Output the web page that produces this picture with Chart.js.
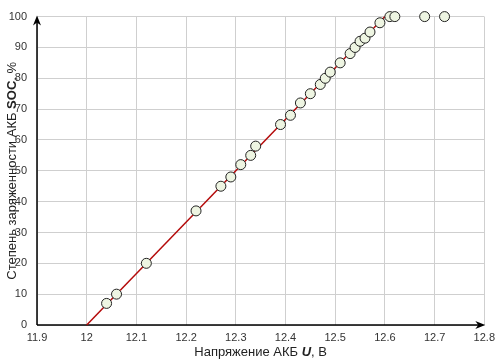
<!DOCTYPE html>
<html lang="ru">
<head>
  <meta charset="UTF-8" />
  <script src="https://cdn.jsdelivr.net/npm/chart.js"></script>
  <title>SOC АКБ</title>
  <style>
    html, body { margin: 0; padding: 0; background: #fff; }
    #box { width: 501px; height: 360px; }
  </style>
</head>
<body>
  <div id="box"><canvas id="grafico"></canvas></div>

<script>
  // данные: напряжение АКБ (В) и степень заряженности (%)
  var napryazhenie = [12.04, 12.06, 12.12, 12.22, 12.27, 12.29, 12.31, 12.33, 12.34, 12.39,
                      12.41, 12.43, 12.45, 12.47, 12.48, 12.49, 12.51, 12.53, 12.54, 12.55,
                      12.56, 12.57, 12.59, 12.61, 12.62, 12.68, 12.72]
  var soc = [7, 10, 20, 37, 45, 48, 52, 55, 58, 65,
             68, 72, 75, 78, 80, 82, 85, 88, 90, 92,
             93, 95, 98, 100, 100, 100, 100]

  // линия аппроксимации
  var liniyaU = [12.0, 12.6]
  var liniyaSoc = [0, 100]

  var xTicks = [11.9, 12, 12.1, 12.2, 12.3, 12.4, 12.5, 12.6, 12.7, 12.8]
  var yTicks = [0, 10, 20, 30, 40, 50, 60, 70, 80, 90, 100]

  const fonte = "'Liberation Sans', Arial, sans-serif"

  // оси со стрелками и подписи осей
  const osiPlugin = {
    id: 'osi',
    beforeDatasetsDraw(chart) {
      const ctx = chart.ctx
      const a = chart.chartArea
      ctx.save()
      ctx.strokeStyle = '#000'
      ctx.fillStyle = '#000'
      ctx.lineWidth = 1.5
      ctx.beginPath()
      ctx.moveTo(a.left, a.bottom)
      ctx.lineTo(a.left, a.top + 2)
      ctx.moveTo(a.left, a.bottom)
      ctx.lineTo(a.right - 2, a.bottom)
      ctx.stroke()
      // стрелка вверх
      ctx.beginPath()
      ctx.moveTo(a.left, a.top - 1)
      ctx.lineTo(a.left - 4, a.top + 9)
      ctx.lineTo(a.left, a.top + 6)
      ctx.lineTo(a.left + 4, a.top + 9)
      ctx.closePath()
      ctx.fill()
      // стрелка вправо
      ctx.beginPath()
      ctx.moveTo(a.right + 1, a.bottom)
      ctx.lineTo(a.right - 9, a.bottom - 4)
      ctx.lineTo(a.right - 6, a.bottom)
      ctx.lineTo(a.right - 9, a.bottom + 4)
      ctx.closePath()
      ctx.fill()
      ctx.restore()
    },
    afterDraw(chart) {
      const ctx = chart.ctx
      const a = chart.chartArea
      ctx.save()
      ctx.fillStyle = '#222'
      ctx.textBaseline = 'middle'
      const partsX = [
        ['Напряжение АКБ ', '13px ' + fonte],
        ['U', 'italic bold 13px ' + fonte],
        [', В', '13px ' + fonte]
      ]
      const partsY = [
        ['Степень заряженности АКБ ', '13px ' + fonte],
        ['SOC', 'bold 13px ' + fonte],
        [', %', '13px ' + fonte]
      ]
      function escreve(parts, cx, cy) {
        let w = 0
        parts.forEach(p => { ctx.font = p[1]; w += ctx.measureText(p[0]).width })
        let x = cx - w / 2
        parts.forEach(p => {
          ctx.font = p[1]
          ctx.textAlign = 'left'
          ctx.fillText(p[0], x, cy)
          x += ctx.measureText(p[0]).width
        })
      }
      escreve(partsX, (a.left + a.right) / 2, 352)
      ctx.translate(12, (a.top + a.bottom) / 2)
      ctx.rotate(-Math.PI / 2)
      escreve(partsY, 0, 0)
      ctx.restore()
    }
  }

  const grafico = document.getElementById('grafico').getContext('2d')

  new Chart(grafico, {
    type: 'scatter',
    data: {
      datasets: [
        {
          label: 'SOC',
          data: napryazhenie.map((u, i) => ({ x: u, y: soc[i] })),
          pointRadius: 5,
          pointBorderWidth: 1,
          pointBackgroundColor: '#eef5e2',
          pointBorderColor: '#222',
          clip: false,
          order: 1
        },
        {
          label: 'линия',
          type: 'line',
          data: liniyaU.map((u, i) => ({ x: u, y: liniyaSoc[i] })),
          borderColor: '#b40a0a',
          borderWidth: 1.5,
          pointRadius: 0,
          fill: false,
          clip: false,
          order: 2
        }
      ]
    },
    options: {
      responsive: true,
      maintainAspectRatio: false,
      animation: false,
      layout: { padding: { top: 6, right: 14, left: 0, bottom: 0 } },
      plugins: { legend: { display: false }, tooltip: { enabled: false } },
      scales: {
        x: {
          type: 'linear',
          min: 11.9,
          max: 12.8,
          afterBuildTicks: s => { s.ticks = xTicks.map(v => ({ value: v })) },
          afterFit: s => { s.height = 35 },
          grid: { color: '#cfcfcf', lineWidth: 1, drawTicks: false },
          border: { display: false },
          ticks: {
            padding: 6,
            color: '#333',
            font: { family: fonte, size: 11 },
            maxRotation: 0,
            callback: v => String(Math.round(v * 10) / 10)
          }
        },
        y: {
          min: 0,
          max: 100,
          afterBuildTicks: s => { s.ticks = yTicks.map(v => ({ value: v })) },
          afterFit: s => { s.width = 37 },
          grid: { color: '#cfcfcf', lineWidth: 1, drawTicks: false },
          border: { display: false },
          ticks: {
            padding: 10,
            color: '#333',
            font: { family: fonte, size: 11 }
          }
        }
      }
    },
    plugins: [osiPlugin]
  })
</script>
</body>
</html>
